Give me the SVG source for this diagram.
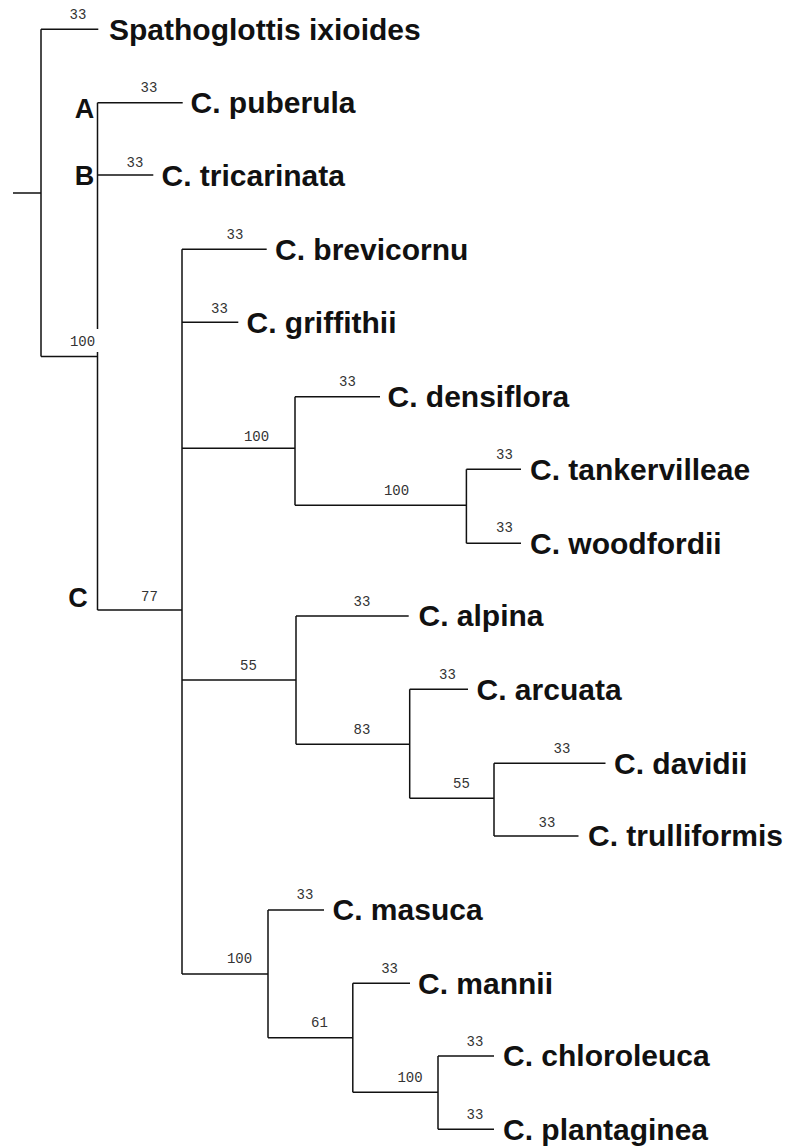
<svg xmlns="http://www.w3.org/2000/svg" width="789" height="1147" viewBox="0 0 789 1147">
<style>
.br{fill:none;stroke:#111;stroke-width:1.5}
.sp{font-family:"Liberation Sans",Arial,sans-serif;font-weight:bold;font-size:30px;fill:#111}
.bs{font-family:"Liberation Mono","Courier New",monospace;font-size:14px;fill:#333;text-anchor:middle}
.cl{font-family:"Liberation Sans",Arial,sans-serif;font-weight:bold;font-size:27px;fill:#111;text-anchor:middle}
</style>
<rect width="789" height="1147" fill="#fff"/>
<g id="connectors" class="br">
<path d="M13 193H41M41 29.3V356.5M41 29.3H98.3M41 356.5H97.5"/>
<path d="M97.5 102.7V329M97.5 352V610M97.5 102.7H182.7M97.5 175H153.3M97.5 610H182"/>
<path d="M182 249.3V974M182 249.3H266.7M182 322.3H238.3"/>
<path d="M182 448.3H295M295 396.7V505.3M295 396.7H380M295 505.3H466.4M466.4 469.3V543.3M466.4 469.3H521M466.4 543.3H521"/>
<path d="M182 680H296M296 616V744.3M296 616H408.7M296 744.3H409.7M409.7 689.3V798.3M409.7 689.3H468M409.7 798.3H494M494 763.3V836M494 763.3H605.5M494 836H578.5"/>
<path d="M182 974H268M268 910V1037.7M268 910H324M268 1037.7H352.8M352.8 983.3V1092.3M352.8 983.3H410M352.8 1092.3H438M438 1056V1129.3M438 1056H494M438 1129.3H494"/>
</g>
<g id="clade-labels">
<text class="cl" x="84.5" y="118">A</text>
<text class="cl" x="84.5" y="185">B</text>
<text class="cl" x="78" y="607">C</text>
</g>
<g id="support-values">
<text class="bs" x="82.5" y="346">100</text>
<text class="bs" x="256.5" y="441">100</text>
<text class="bs" x="396.5" y="495">100</text>
<text class="bs" x="149.5" y="600.5">77</text>
<text class="bs" x="248.5" y="670">55</text>
<text class="bs" x="362" y="734">83</text>
<text class="bs" x="461.5" y="788">55</text>
<text class="bs" x="239.5" y="963">100</text>
<text class="bs" x="319.4" y="1027">61</text>
<text class="bs" x="410" y="1081.5">100</text>
</g>
<g id="n-spathoglottis"><text class="bs" x="78" y="18.5">33</text><text class="sp" x="109" y="39.5">Spathoglottis ixioides</text></g>
<g id="n-puberula"><text class="bs" x="149" y="92">33</text><text class="sp" x="190.5" y="113">C. puberula</text></g>
<g id="n-tricarinata"><text class="bs" x="135" y="167">33</text><text class="sp" x="161.5" y="185.5">C. tricarinata</text></g>
<g id="n-brevicornu"><text class="bs" x="235" y="239">33</text><text class="sp" x="275" y="259.5">C. brevicornu</text></g>
<g id="n-griffithii"><text class="bs" x="219.5" y="313">33</text><text class="sp" x="246.5" y="332.5">C. griffithii</text></g>
<g id="n-densiflora"><text class="bs" x="347.5" y="386">33</text><text class="sp" x="387.5" y="407">C. densiflora</text></g>
<g id="n-tankervilleae"><text class="bs" x="504.5" y="459">33</text><text class="sp" x="530" y="479.5">C. tankervilleae</text></g>
<g id="n-woodfordii"><text class="bs" x="504.5" y="532">33</text><text class="sp" x="530" y="553.5">C. woodfordii</text></g>
<g id="n-alpina"><text class="bs" x="362" y="606">33</text><text class="sp" x="418.5" y="626">C. alpina</text></g>
<g id="n-arcuata"><text class="bs" x="447.5" y="679">33</text><text class="sp" x="476.5" y="699.5">C. arcuata</text></g>
<g id="n-davidii"><text class="bs" x="562" y="752.5">33</text><text class="sp" x="614" y="773.5">C. davidii</text></g>
<g id="n-trulliformis"><text class="bs" x="547" y="826.5">33</text><text class="sp" x="588" y="846">C. trulliformis</text></g>
<g id="n-masuca"><text class="bs" x="305" y="899">33</text><text class="sp" x="332.5" y="920">C. masuca</text></g>
<g id="n-mannii"><text class="bs" x="389.6" y="972.7">33</text><text class="sp" x="418" y="993.5">C. mannii</text></g>
<g id="n-chloroleuca"><text class="bs" x="475" y="1046">33</text><text class="sp" x="503" y="1066">C. chloroleuca</text></g>
<g id="n-plantaginea"><text class="bs" x="475" y="1119">33</text><text class="sp" x="503" y="1139.5">C. plantaginea</text></g>
</svg>
